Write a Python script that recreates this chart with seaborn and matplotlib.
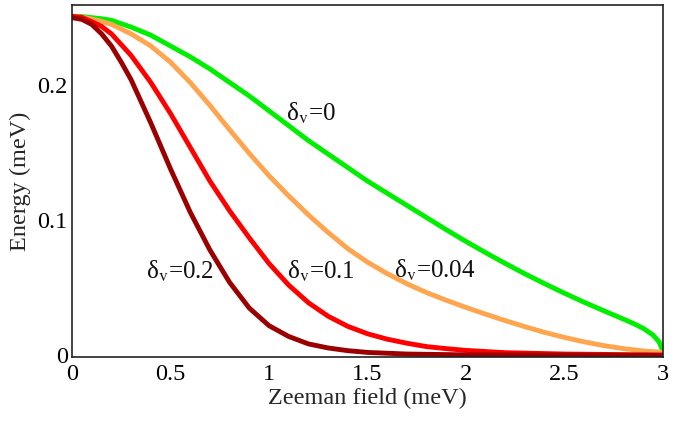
import matplotlib
matplotlib.use("Agg")
import matplotlib.pyplot as plt
import seaborn as sns
import pandas as pd

# Zeeman field (meV) and lowest energy (meV) for each valley splitting delta_v
x_d0 = [0, 0.05, 0.1, 0.15, 0.2, 0.3, 0.4, 0.5, 0.6, 0.7, 0.8, 0.9, 1.0, 1.1, 1.2,
        1.3, 1.4, 1.5, 1.6, 1.7, 1.8, 1.9, 2.0, 2.1, 2.2, 2.3, 2.4, 2.5, 2.6,
        2.7, 2.8, 2.85, 2.9, 2.95, 2.98, 3.0]
y_d0 = [0.251, 0.2508, 0.250, 0.2492, 0.248, 0.243, 0.237, 0.229, 0.221, 0.212,
        0.202, 0.192, 0.181, 0.170, 0.159, 0.149, 0.139, 0.129, 0.120, 0.111,
        0.102, 0.093, 0.0843, 0.0760, 0.0680, 0.0603, 0.0530, 0.0460, 0.0393,
        0.0330, 0.0268, 0.0236, 0.0200, 0.0150, 0.0100, 0.003]

x_d004 = [0, 0.05, 0.1, 0.15, 0.2, 0.3, 0.4, 0.5, 0.6, 0.7, 0.8, 0.9, 1.0, 1.1,
          1.2, 1.3, 1.4, 1.5, 1.6, 1.7, 1.8, 1.9, 2.0, 2.1, 2.2, 2.3, 2.4, 2.5,
          2.6, 2.7, 2.8, 2.9, 3.0]
y_d004 = [0.251, 0.2503, 0.249, 0.2472, 0.245, 0.238, 0.229, 0.217, 0.202,
          0.185, 0.167, 0.1495, 0.133, 0.118, 0.104, 0.091, 0.079, 0.0690,
          0.0605, 0.0530, 0.0465, 0.0408, 0.0355, 0.0305, 0.0257, 0.0212,
          0.0170, 0.0133, 0.0100, 0.0072, 0.0050, 0.0033, 0.0022]

x_d01 = [0, 0.05, 0.1, 0.15, 0.2, 0.3, 0.4, 0.5, 0.6, 0.7, 0.8, 0.9, 1.0, 1.1,
         1.2, 1.3, 1.4, 1.5, 1.6, 1.7, 1.8, 1.9, 2.0, 2.2, 2.5, 3.0]
y_d01 = [0.251, 0.2502, 0.247, 0.2435, 0.238, 0.222, 0.202, 0.179, 0.154, 0.129,
         0.107, 0.087, 0.068, 0.052, 0.039, 0.029, 0.0215, 0.016, 0.012, 0.009,
         0.0065, 0.005, 0.0037, 0.002, 0.001, 0.0003]

x_d02 = [0, 0.05, 0.1, 0.15, 0.2, 0.25, 0.3, 0.35, 0.4, 0.5, 0.6, 0.7, 0.8, 0.9,
         1.0, 1.1, 1.2, 1.3, 1.4, 1.5, 1.7, 2.0, 3.0]
y_d02 = [0.250, 0.2487, 0.245, 0.238, 0.229, 0.217, 0.204, 0.188, 0.172, 0.138,
         0.106, 0.078, 0.054, 0.035, 0.022, 0.014, 0.0085, 0.0055, 0.0035,
         0.0022, 0.001, 0.0004, 0.0]

series_names = ["0", "0.04", "0.1", "0.2"]
series_x = [x_d0, x_d004, x_d01, x_d02]
series_y = [y_d0, y_d004, y_d01, y_d02]

x_ticks = [0, 0.5, 1, 1.5, 2, 2.5, 3]
x_tick_labels = ["0", "0.5", "1", "1.5", "2", "2.5", "3"]
y_ticks = [0, 0.1, 0.2]
y_tick_labels = ["0", "0.1", "0.2"]

frames = []
for name, xs, ys in zip(series_names, series_x, series_y):
    frames.append(pd.DataFrame({"field": xs, "energy": ys, "delta": name}))
df = pd.concat(frames, ignore_index=True)

palette = {"0": "#00EE00", "0.04": "#FFA54F", "0.1": "#FF0000", "0.2": "#9B0000"}

sns.set_theme(style="white")
plt.rcParams["font.family"] = ["Liberation Serif", "DejaVu Serif"]
plt.rcParams["mathtext.fontset"] = "stix"

fig = plt.figure(figsize=(6.84, 4.22), dpi=100)
ax = fig.add_axes([0.1053, 0.154, 0.8640, 0.834])

sns.lineplot(data=df, x="field", y="energy", hue="delta", hue_order=series_names,
             palette=palette, estimator=None, sort=False, linewidth=3.5,
             legend=False, ax=ax)
for line in ax.get_lines():
    line.set_solid_joinstyle("round")
    line.set_solid_capstyle("round")

ax.set_xlim(0, 3)
ax.set_ylim(-0.0012, 0.2593)
ax.set_xticks(x_ticks)
ax.set_xticklabels(x_tick_labels)
ax.set_yticks(y_ticks)
ax.set_yticklabels(y_tick_labels)
ax.tick_params(axis="both", direction="in", length=4, width=1, labelsize=17.5,
               colors="#222222", labelcolor="black")
ax.tick_params(axis="x", pad=5)
ax.tick_params(axis="y", pad=3)

for sp in ax.spines.values():
    sp.set_visible(True)
    sp.set_color("#222222")
    sp.set_linewidth(1.2)

ax.set_xlabel("Zeeman field (meV)", fontsize=17.5, labelpad=2)
ax.set_ylabel("Energy (meV)", fontsize=17.5, labelpad=5)

# curve labels: upright delta with a roman subscript v
label_kw = dict(fontsize=18, ha="center", va="center", color="#111111")
ax.text(1.213, 0.179, "δ$_{\\mathrm{v}}$=0", **label_kw)
ax.text(0.548, 0.062, "δ$_{\\mathrm{v}}$=0.2", **label_kw)
ax.text(1.264, 0.062, "δ$_{\\mathrm{v}}$=0.1", **label_kw)
ax.text(1.843, 0.063, "δ$_{\\mathrm{v}}$=0.04", **label_kw)

fig.savefig("out.png", dpi=100)
